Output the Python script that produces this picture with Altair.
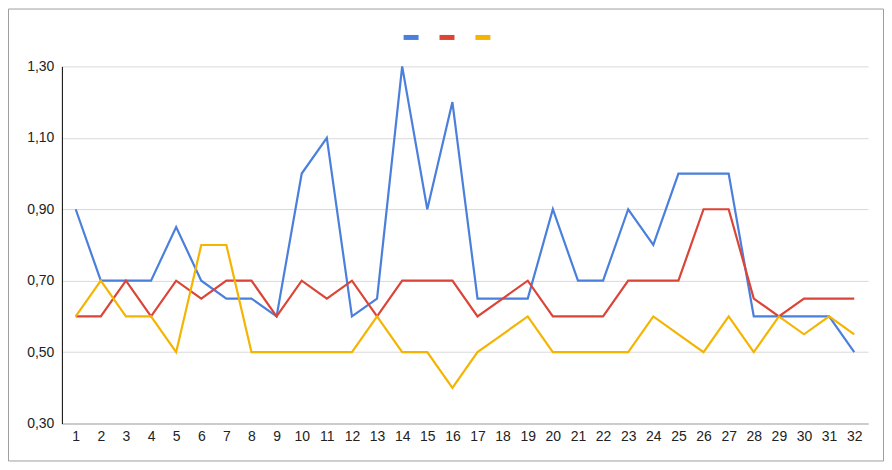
import altair as alt
import pandas as pd

days = list(range(1, 33))
blue = [0.90, 0.70, 0.70, 0.70, 0.85, 0.70, 0.65, 0.65, 0.60, 1.00, 1.10, 0.60, 0.65, 1.30, 0.90, 1.20,
        0.65, 0.65, 0.65, 0.90, 0.70, 0.70, 0.90, 0.80, 1.00, 1.00, 1.00, 0.60, 0.60, 0.60, 0.60, 0.50]
red = [0.60, 0.60, 0.70, 0.60, 0.70, 0.65, 0.70, 0.70, 0.60, 0.70, 0.65, 0.70, 0.60, 0.70, 0.70, 0.70,
       0.60, 0.65, 0.70, 0.60, 0.60, 0.60, 0.70, 0.70, 0.70, 0.90, 0.90, 0.65, 0.60, 0.65, 0.65, 0.65]
yellow = [0.60, 0.70, 0.60, 0.60, 0.50, 0.80, 0.80, 0.50, 0.50, 0.50, 0.50, 0.50, 0.60, 0.50, 0.50, 0.40,
          0.50, 0.55, 0.60, 0.50, 0.50, 0.50, 0.50, 0.60, 0.55, 0.50, 0.60, 0.50, 0.60, 0.55, 0.60, 0.55]
series_names = ["s1", "s2", "s3"]
series_colors = ["#4a7fdc", "#db4437", "#f4b400"]
y_ticks = [0.3, 0.5, 0.7, 0.9, 1.1, 1.3]

rows = []
for name, vals in zip(series_names, [blue, red, yellow]):
    for d, v in zip(days, vals):
        rows.append({"day": d, "value": v, "series": name})
df = pd.DataFrame(rows)

FONT = "Liberation Sans"

lines = alt.Chart(df).mark_line(strokeWidth=2.2).encode(
    x=alt.X("day:O", scale=alt.Scale(type="point", padding=0.55),
            axis=alt.Axis(title=None, labelAngle=0, ticks=False, grid=False,
                          domain=True, domainColor="#cccccc", domainWidth=2,
                          labelPadding=6, labelFont=FONT, labelFontSize=14,
                          labelColor="#222222")),
    y=alt.Y("value:Q", scale=alt.Scale(domain=[0.3, 1.3], nice=False, zero=False),
            axis=alt.Axis(title=None, values=y_ticks, ticks=False,
                          labelExpr="replace(format(datum.value, '.2f'), '.', ',')",
                          domain=True, domainColor="#000000", domainWidth=1,
                          gridColor="#d9d9d9", gridWidth=1,
                          labelPadding=8, labelFont=FONT, labelFontSize=14,
                          labelColor="#222222")),
    color=alt.Color("series:N",
                    scale=alt.Scale(domain=series_names, range=series_colors),
                    legend=alt.Legend(title=None, orient="none", direction="horizontal",
                                      legendX=340, legendY=-39,
                                      symbolType="stroke", symbolStrokeWidth=5,
                                      symbolSize=225, labelExpr="''",
                                      labelFontSize=5, labelOffset=0,
                                      columnPadding=0)),
    order="day:O",
)

frame = alt.Chart(pd.DataFrame({"a": [0]})).mark_rect(
    filled=False, stroke="#9e9e9e", strokeWidth=1
).encode(
    x=alt.value(-53.5), x2=alt.value(823.5), y=alt.value(-57.5), y2=alt.value(395.5)
)

chart = alt.layer(frame, lines).properties(
    width=808, height=358,
    autosize=alt.AutoSizeParams(type="none"),
    padding={"left": 54, "top": 58, "right": 16, "bottom": 38},
).configure_view(stroke=None)

chart.save("out.html", embed_options={"renderer": "svg", "actions": False})
